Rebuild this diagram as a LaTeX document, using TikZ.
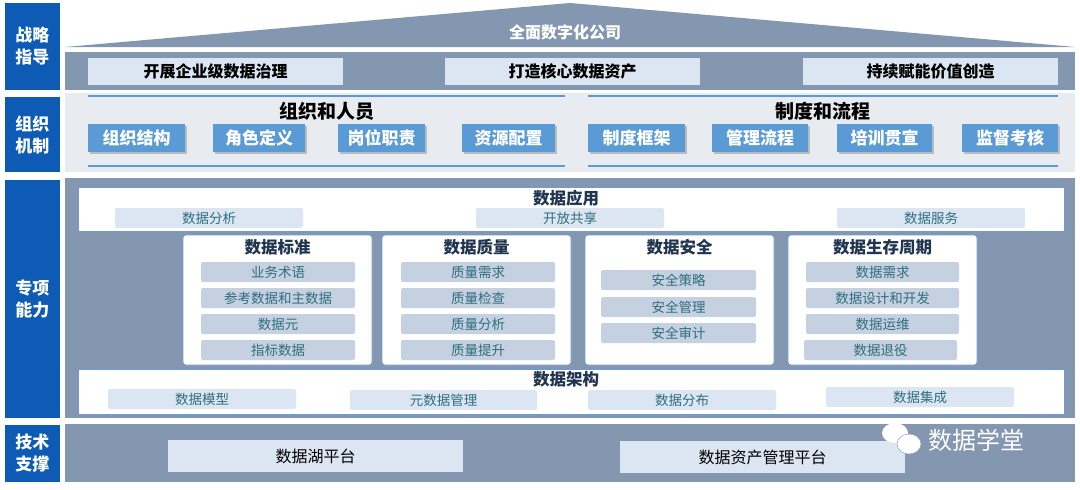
\documentclass[tikz,border=0pt]{standalone}
\usepackage{fontspec}
\setmainfont{Noto Sans CJK SC}
\usetikzlibrary{positioning,shadows}
\definecolor{bandgrey}{HTML}{8497B0}
\definecolor{sideblue}{HTML}{0E5BB5}
\definecolor{lightband}{HTML}{E8EBF0}
\definecolor{roleblue}{HTML}{5B9BD5}
\definecolor{paleblue}{HTML}{DCE6F2}
\definecolor{itemgrey}{HTML}{C5D0E1}
\definecolor{tealtext}{HTML}{2E6E7E}
\definecolor{titlenavy}{HTML}{1F3550}
\tikzset{
  side/.style={fill=sideblue,text=white,font=\bfseries\fontsize{17}{22}\selectfont,align=center,inner sep=0pt},
  goal/.style={fill=paleblue,font=\bfseries\fontsize{16}{18}\selectfont,inner sep=0pt},
  role/.style={fill=roleblue,text=white,font=\bfseries\fontsize{17}{18}\selectfont,inner sep=0pt,drop shadow={shadow xshift=2pt,shadow yshift=-2pt,fill=black!45}},
  panel/.style={fill=white,draw=cyan!50!blue!60,line width=0.6pt,rounded corners=3pt},
  sub/.style={fill=paleblue,text=tealtext,font=\fontsize{13.5}{15}\selectfont,rounded corners=2pt,inner sep=0pt},
  item/.style={fill=itemgrey,text=tealtext,font=\fontsize{13.5}{15}\selectfont,rounded corners=2pt,inner sep=0pt},
  head/.style={text=titlenavy,font=\bfseries\fontsize{16.5}{18}\selectfont},
  plat/.style={fill=paleblue,font=\fontsize{16}{18}\selectfont,inner sep=0pt},
}
\newcommand\boxat[4]{\path[#1] (#2) rectangle (#3) node[midway] {#4};}
\begin{document}
\begin{tikzpicture}[x=1pt,y=-1pt]
\useasboundingbox[fill=white] (0,0) rectangle (1080,490);
% left column
\boxat{side}{5,3}{60,90}{战略\\指导}
\boxat{side}{5,97}{60,172}{组织\\机制}
\boxat{side}{5,180}{60,418}{专项\\能力}
\boxat{side}{5,425}{60,482}{技术\\支撑}
% strategy
\fill[bandgrey] (65,47) -- (570,3) -- (1075,47) -- cycle;
\node[text=white,font=\bfseries\fontsize{16}{18}\selectfont] (top) at (565,32) {全面数字化公司};
\fill[bandgrey] (65,52) rectangle (1075,90);
\boxat{goal}{88,58}{343,85}{开展企业级数据治理}
\boxat{goal}{445,58}{700,85}{打造核心数据资产}
\boxat{goal}{803,58}{1058,85}{持续赋能价值创造}
% organisation
\fill[lightband] (65,93) rectangle (1075,172);
\foreach \a/\b in {88/565,588/1058}{
  \draw[roleblue,line width=2pt] (\a,96) -- (\b,96);
  \draw[roleblue,line width=2pt] (\a,166) -- (\b,166);}
\node[font=\bfseries\fontsize{19}{21}\selectfont] (org) at (327,111) {组织和人员};
\node[font=\bfseries\fontsize{19}{21}\selectfont] (proc) at (823,111) {制度和流程};
\foreach \a/\b/\t in {88/185/组织结构,213/305/角色定义,338/425/岗位职责,462/555/资源配置,588/685/制度框架,712/808/管理流程,837/932/培训贯宣,962/1058/监督考核}
  \boxat{role}{\a,124}{\b,152}{\t}
% capabilities
\fill[bandgrey] (65,178) rectangle (1075,418);
\draw[panel,rounded corners=0pt] (78,187) rectangle (1064,231);
\node[head] (app) at (566,198) {数据应用};
\boxat{sub}{115,208}{303,228}{数据分析}
\boxat{sub}{476,208}{664,228}{开放共享}
\boxat{sub}{837,208}{1025,228}{数据服务}
\foreach \a/\t in {183/数据标准,382/数据质量,585/数据安全,788/数据生存周期}{
  \draw[panel] (\a,235) rectangle (\a+189,365);
  \node[head] at (\a+94.5,247) {\t};}
\foreach \y [count=\i] in {262,288,314,340}{
  \pgfmathsetmacro\yb{\y+20}
  \ifcase\i\or
    \boxat{item}{201,\y}{355,\yb}{业务术语}\boxat{item}{401,\y}{555,\yb}{质量需求}\boxat{item}{806,\y}{959,\yb}{数据需求}\or
    \boxat{item}{201,\y}{355,\yb}{参考数据和主数据}\boxat{item}{401,\y}{555,\yb}{质量检查}\boxat{item}{806,\y}{959,\yb}{数据设计和开发}\or
    \boxat{item}{201,\y}{355,\yb}{数据元}\boxat{item}{401,\y}{555,\yb}{质量分析}\boxat{item}{806,\y}{959,\yb}{数据运维}\or
    \boxat{item}{201,\y}{355,\yb}{指标数据}\boxat{item}{401,\y}{555,\yb}{质量提升}\boxat{item}{804,\y}{957,\yb}{数据退役}\fi}
\boxat{item}{601,270}{756,290}{安全策略}
\boxat{item}{601,297}{756,317}{安全管理}
\boxat{item}{601,323}{756,343}{安全审计}
\draw[panel,rounded corners=0pt] (78,369) rectangle (1064,414);
\node[head] (arch) at (566,379) {数据架构};
\boxat{sub}{108,389}{296,409}{数据模型}
\boxat{sub}{350,390}{537,410}{元数据管理}
\boxat{sub}{588,390}{776,410}{数据分布}
\boxat{sub}{826,387}{1014,407}{数据集成}
% technology
\fill[bandgrey] (65,424) rectangle (1075,482);
\boxat{plat}{168,440}{463,472}{数据湖平台}
\boxat{plat}{620,441}{905,473}{数据资产管理平台}
\fill[white] (895,433) ellipse (13 and 10);
\fill[white,draw=bandgrey] (909,444) ellipse (12 and 10);
\node[text=white,font=\fontsize{24}{26}\selectfont,anchor=west] (mark) at (925,440) {数据学堂};
\end{tikzpicture}
\end{document}
